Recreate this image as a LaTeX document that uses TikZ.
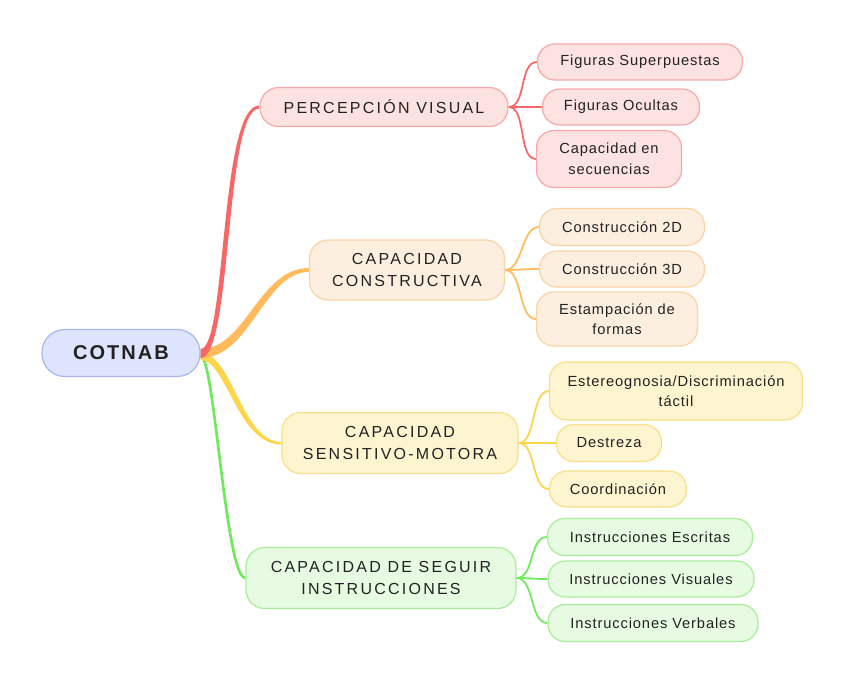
\documentclass[tikz,border=0pt]{standalone}
\usepackage{fontspec}
\setmainfont{Liberation Sans}
\newfontfamily\leaffont[LetterSpace=6]{Liberation Sans}
\newfontfamily\branchfont[LetterSpace=14]{Liberation Sans}
\newfontfamily\rootfont[LetterSpace=10]{Liberation Sans}
\usetikzlibrary{calc,backgrounds}
\definecolor{rline}{HTML}{F86666}
\definecolor{rfill}{HTML}{FDE2E2}
\definecolor{rdraw}{HTML}{F8A8A8}
\definecolor{oline}{HTML}{FFBB5C}
\definecolor{ofill}{HTML}{FDEFDF}
\definecolor{odraw}{HTML}{FAD3A4}
\definecolor{yline}{HTML}{FDD54A}
\definecolor{yfill}{HTML}{FDF4D0}
\definecolor{ydraw}{HTML}{F8DF88}
\definecolor{gline}{HTML}{6EEA5A}
\definecolor{gfill}{HTML}{E6FBE1}
\definecolor{gdraw}{HTML}{A8EE9A}
\definecolor{bfill}{HTML}{DEE4FC}
\definecolor{bdraw}{HTML}{A9B7F4}
\definecolor{txt}{HTML}{222222}
\tikzset{
  box/.style={draw, line width=0.9pt, inner sep=0pt, align=center, text=txt},
  leaf/.style={box, rounded corners=13pt, font=\leaffont\fontsize{11}{15.5}\selectfont},
  branch/.style={box, rounded corners=14pt, font=\branchfont\fontsize{12}{17}\selectfont},
  rootbox/.style={box, rounded corners=17pt, fill=bfill, draw=bdraw, font=\rootfont\bfseries\fontsize{15}{17}\selectfont},
  rleaf/.style={leaf, fill=rfill, draw=rdraw},
  oleaf/.style={leaf, fill=ofill, draw=odraw},
  yleaf/.style={leaf, fill=yfill, draw=ydraw},
  gleaf/.style={leaf, fill=gfill, draw=gdraw},
  rbranch/.style={branch, fill=rfill, draw=rdraw},
  obranch/.style={branch, fill=ofill, draw=odraw},
  ybranch/.style={branch, fill=yfill, draw=ydraw},
  gbranch/.style={branch, fill=gfill, draw=gdraw},
  sub/.style={line width=1.3pt},
}
\begin{document}
\begin{tikzpicture}[x=0.75pt,y=-0.75pt]
\useasboundingbox (0,0) rectangle (848,686);
% nodes
\node[rootbox, minimum width=118.5pt, minimum height=35.25pt] (root) at (121,353) {COTNAB};
\node[rbranch, minimum width=186pt, minimum height=29.25pt] (b1) at (384,107) {PERCEPCIÓN VISUAL};
\node[obranch, minimum width=146.25pt, minimum height=45pt] (b2) at (407,270) {CAPACIDAD\\CONSTRUCTIVA};
\node[ybranch, minimum width=177pt, minimum height=45.75pt] (b3) at (400,443) {CAPACIDAD\\SENSITIVO-MOTORA};
\node[gbranch, minimum width=202.5pt, minimum height=45.75pt] (b4) at (381,578) {CAPACIDAD DE SEGUIR\\INSTRUCCIONES};
\node[rleaf, minimum width=153.75pt, minimum height=27pt] (l1) at (640,62) {Figuras Superpuestas};
\node[rleaf, minimum width=117.75pt, minimum height=27pt] (l2) at (621,107) {Figuras Ocultas};
\node[rleaf, minimum width=108.75pt, minimum height=42.75pt] (l3) at (609,159) {Capacidad en\\secuencias};
\node[oleaf, minimum width=123.75pt, minimum height=27.75pt] (l4) at (622,227) {Construcción 2D};
\node[oleaf, minimum width=123.75pt, minimum height=27pt] (l5) at (622,269) {Construcción 3D};
\node[oleaf, minimum width=120.75pt, minimum height=40.5pt] (l6) at (617,319) {Estampación de\\formas};
\node[yleaf, minimum width=189.75pt, minimum height=43.5pt] (l7) at (676,391) {Estereognosia/Discriminación\\táctil};
\node[yleaf, minimum width=78.75pt, minimum height=27.75pt] (l8) at (609,443) {Destreza};
\node[yleaf, minimum width=102.75pt, minimum height=27pt] (l9) at (618,489) {Coordinación};
\node[gleaf, minimum width=153.75pt, minimum height=27.75pt] (l10) at (650,537) {Instrucciones Escritas};
\node[gleaf, minimum width=154.5pt, minimum height=27pt] (l11) at (651,579) {Instrucciones Visuales};
\node[gleaf, minimum width=157.5pt, minimum height=27.75pt] (l12) at (653,623) {Instrucciones Verbales};
\begin{scope}[on background layer]
% root connectors (tapered)
\draw[gline, line width=2pt] ($(root.east)+(0,3)$) .. controls +(14,0) and +(-20,0) .. (b4.west);
\fill[yline] ($(root.east)+(0,0)$) .. controls +(32,0) and +(-40,0) .. ($(b3.west)+(0,-1)$)
  -- ($(b3.west)+(0,1.5)$) .. controls +(-44,0) and +(26,0) .. ($(root.east)+(0,7)$) -- cycle;
\fill[oline] ($(root.east)+(0,-4)$) .. controls +(45,0) and +(-50,0) .. ($(b2.west)+(0,-2)$)
  -- ($(b2.west)+(0,2)$) .. controls +(-45,0) and +(50,0) .. ($(root.east)+(0,5)$) -- cycle;
\fill[rline] ($(root.east)+(0,-4)$) .. controls +(26,0) and +(-40,0) .. ($(b1.west)+(0,-1.5)$)
  -- ($(b1.west)+(0,1.5)$) .. controls +(-35,0) and +(32,0) .. ($(root.east)+(0,5)$) -- cycle;
% branch to leaf connectors
\foreach \l in {l1,l2,l3}
  \draw[sub, rline] (b1.east) .. controls +(18,0) and +(-18,0) .. (\l.west);
\foreach \l in {l4,l5,l6}
  \draw[sub, oline] (b2.east) .. controls +(18,0) and +(-18,0) .. (\l.west);
\foreach \l in {l7,l8,l9}
  \draw[sub, yline] (b3.east) .. controls +(18,0) and +(-18,0) .. (\l.west);
\foreach \l in {l10,l11,l12}
  \draw[sub, gline] (b4.east) .. controls +(18,0) and +(-18,0) .. (\l.west);
\end{scope}
\end{tikzpicture}
\end{document}
